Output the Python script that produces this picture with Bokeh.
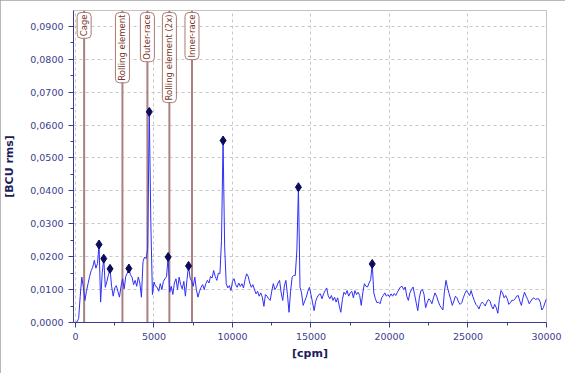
from math import pi
from bokeh.plotting import figure
from bokeh.models import Label, FixedTicker, CustomJSTickFormatter, Range1d
from bokeh.embed import file_html
from bokeh.resources import INLINE

# ---- data ----
freq_step = 100  # cpm between spectrum lines
bcu_rms = [
    0.0000, 0.0002, 0.0012, 0.0080, 0.0138, 0.0107, 0.0067, 0.0095, 0.0118, 0.0140,  # 0-900
    0.0158, 0.0168, 0.0189, 0.0165, 0.0179, 0.0237, 0.0062, 0.0150, 0.0194, 0.0107,  # 1000-1900
    0.0125, 0.0145, 0.0163, 0.0110, 0.0080, 0.0105, 0.0112, 0.0095, 0.0077, 0.0110,  # 2000-2900
    0.0133, 0.0102, 0.0140, 0.0150, 0.0164, 0.0145, 0.0138, 0.0115, 0.0128, 0.0110,  # 3000-3900
    0.0138, 0.0120, 0.0077, 0.0185, 0.0199, 0.0194, 0.0225, 0.0640, 0.0300, 0.0085,  # 4000-4900
    0.0123, 0.0110, 0.0107, 0.0095, 0.0118, 0.0100, 0.0125, 0.0133, 0.0140, 0.0199,  # 5000-5900
    0.0092, 0.0110, 0.0085, 0.0120, 0.0133, 0.0100, 0.0138, 0.0115, 0.0102, 0.0125,  # 6000-6900
    0.0080, 0.0130, 0.0172, 0.0135, 0.0125, 0.0110, 0.0138, 0.0100, 0.0077, 0.0095,  # 7000-7900
    0.0107, 0.0115, 0.0100, 0.0118, 0.0128, 0.0120, 0.0140, 0.0135, 0.0158, 0.0140,  # 8000-8900
    0.0128, 0.0150, 0.0148, 0.0250, 0.0553, 0.0230, 0.0118, 0.0105, 0.0112, 0.0097,  # 9000-9900
    0.0125, 0.0133, 0.0115, 0.0107, 0.0120, 0.0110, 0.0118, 0.0105, 0.0130, 0.0148,  # 10000-10900
    0.0140, 0.0120, 0.0107, 0.0115, 0.0100, 0.0087, 0.0095, 0.0080, 0.0090, 0.0077,  # 11000-11900
    0.0049, 0.0085, 0.0080, 0.0072, 0.0067, 0.0095, 0.0118, 0.0100, 0.0107, 0.0120,  # 12000-12900
    0.0128, 0.0090, 0.0067, 0.0110, 0.0128, 0.0085, 0.0031, 0.0095, 0.0138, 0.0143,  # 13000-13900
    0.0143, 0.0220, 0.0411, 0.0107, 0.0090, 0.0052, 0.0065, 0.0077, 0.0095, 0.0107,  # 14000-14900
    0.0085, 0.0060, 0.0036, 0.0065, 0.0077, 0.0085, 0.0087, 0.0072, 0.0087, 0.0097,  # 15000-15900
    0.0105, 0.0080, 0.0072, 0.0082, 0.0067, 0.0077, 0.0062, 0.0075, 0.0050, 0.0031,  # 16000-16900
    0.0070, 0.0092, 0.0085, 0.0097, 0.0080, 0.0090, 0.0095, 0.0075, 0.0097, 0.0085,  # 17000-17900
    0.0092, 0.0082, 0.0052, 0.0090, 0.0118, 0.0110, 0.0108, 0.0120, 0.0130, 0.0178,  # 18000-18900
    0.0090, 0.0072, 0.0060, 0.0062, 0.0057, 0.0075, 0.0082, 0.0090, 0.0080, 0.0085,  # 19000-19900
    0.0078, 0.0087, 0.0080, 0.0088, 0.0082, 0.0092, 0.0100, 0.0108, 0.0110, 0.0100,  # 20000-20900
    0.0108, 0.0080, 0.0067, 0.0090, 0.0100, 0.0108, 0.0085, 0.0060, 0.0036, 0.0075,  # 21000-21900
    0.0097, 0.0100, 0.0085, 0.0045, 0.0060, 0.0072, 0.0067, 0.0057, 0.0075, 0.0090,  # 22000-22900
    0.0080, 0.0065, 0.0052, 0.0045, 0.0038, 0.0095, 0.0128, 0.0105, 0.0087, 0.0070,  # 23000-23900
    0.0052, 0.0065, 0.0080, 0.0075, 0.0062, 0.0055, 0.0060, 0.0075, 0.0088, 0.0097,  # 24000-24900
    0.0090, 0.0082, 0.0097, 0.0080, 0.0067, 0.0055, 0.0050, 0.0041, 0.0055, 0.0062,  # 25000-25900
    0.0057, 0.0050, 0.0062, 0.0070, 0.0065, 0.0050, 0.0041, 0.0055, 0.0045, 0.0028,  # 26000-26900
    0.0070, 0.0097, 0.0090, 0.0075, 0.0082, 0.0072, 0.0055, 0.0060, 0.0068, 0.0067,  # 27000-27900
    0.0072, 0.0080, 0.0082, 0.0065, 0.0052, 0.0075, 0.0092, 0.0080, 0.0070, 0.0057,  # 28000-28900
    0.0065, 0.0072, 0.0075, 0.0070, 0.0072, 0.0072, 0.0062, 0.0038, 0.0045, 0.0060,  # 29000-29900
    0.0072,                                                                          # 30000
]
cpm = [i * freq_step for i in range(len(bcu_rms))]

peak_cpm = [1500, 1800, 2200, 3400, 4700, 5900, 7200, 9400, 14200, 18900]
peak_bcu = [0.0237, 0.0194, 0.0163, 0.0164, 0.0640, 0.0199, 0.0172, 0.0553, 0.0411, 0.0178]

fault_names = ["Cage", "Rolling element", "Outer-race", "Rolling element (2x)", "Inner-race"]
fault_cpm = [550, 2990, 4580, 5980, 7420]

x_ticks = [0, 5000, 10000, 15000, 20000, 25000, 30000]
x_minor = [2500, 7500, 12500, 17500, 22500, 27500]
y_ticks = [0.0, 0.01, 0.02, 0.03, 0.04, 0.05, 0.06, 0.07, 0.08, 0.09]
y_minor = [0.005, 0.015, 0.025, 0.035, 0.045, 0.055, 0.065, 0.075, 0.085]

X_LO, X_HI = -127, 30000
Y_LO, Y_HI = 0.0, 0.0948

# ---- figure ----
p = figure(width=565, height=373, output_backend="svg", toolbar_location=None,
           x_range=Range1d(X_LO, X_HI), y_range=Range1d(Y_LO, Y_HI),
           min_border_left=70, min_border_right=19, min_border_top=10, min_border_bottom=51)
p.background_fill_color = "white"
p.border_fill_color = "white"
p.outline_line_color = "#c4c4c4"
p.outline_line_width = 1
p.styles = {"outline": "1px solid #a0a0a0", "outline-offset": "-1px"}

navy = "#3c3c8c"
for ax in (p.xaxis[0], p.yaxis[0]):
    ax.axis_line_color = navy
    ax.major_tick_line_color = navy
    ax.minor_tick_line_color = navy
    ax.major_tick_in = 0
    ax.major_tick_out = 5
    ax.minor_tick_in = 0
    ax.minor_tick_out = 3
    ax.major_label_text_color = navy
    ax.major_label_text_font = "DejaVu Sans"
    ax.major_label_text_font_size = "9.5px"
    ax.axis_label_text_font = "DejaVu Sans"
    ax.axis_label_text_font_style = "bold"
    ax.axis_label_text_font_size = "11px"
    ax.axis_label_text_color = "#1c1c5c"

p.xaxis.ticker = FixedTicker(ticks=x_ticks, minor_ticks=x_minor)
p.yaxis.ticker = FixedTicker(ticks=y_ticks, minor_ticks=y_minor)
p.yaxis.formatter = CustomJSTickFormatter(code="return tick.toFixed(4).replace('.', ',');")
p.xaxis.axis_label = "[cpm]"
p.yaxis.axis_label = "[BCU rms]"
p.xaxis.major_label_standoff = 5
p.yaxis.major_label_standoff = 5
p.yaxis.axis_label_standoff = 11
p.xaxis.axis_label_standoff = 4

p.xgrid.ticker = FixedTicker(ticks=x_ticks)
p.ygrid.ticker = FixedTicker(ticks=y_ticks)
for g in (p.xgrid[0], p.ygrid[0]):
    g.grid_line_color = "#c8c8c8"
    g.grid_line_dash = "3 3"
    g.grid_line_width = 1

# fault frequency lines
p.segment(x0=fault_cpm, y0=[Y_LO] * len(fault_cpm), x1=fault_cpm, y1=[Y_HI] * len(fault_cpm),
          line_color="#ab8080", line_width=2)

# spectrum
p.line(cpm, bcu_rms, line_color="#2f2ff5", line_width=1)

# peaks
p.scatter(peak_cpm, peak_bcu, marker="diamond", size=9,
          fill_color="#0c0c5a", line_color="#0c0c5a")

# fault labels
for name, f in zip(fault_names, fault_cpm):
    p.add_layout(Label(x=f, y=Y_HI - 0.0006, text=name, angle=pi / 2,
                       text_align="right", text_baseline="middle",
                       text_font="DejaVu Sans", text_font_size="8.5px",
                       text_color="#7a3426",
                       background_fill_color="white",
                       border_line_color="#a87a74", border_line_width=1,
                       border_radius=4, padding=2))

open("out.html", "w").write(file_html(p, INLINE))
